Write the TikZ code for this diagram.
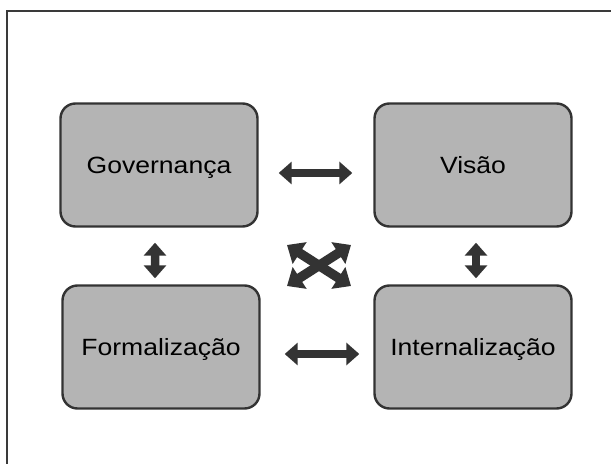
\documentclass[tikz,border=0pt]{standalone}
\usepackage{fontspec}
\setmainfont{Liberation Sans}
\usetikzlibrary{arrows.meta}
\definecolor{boxfill}{HTML}{B4B4B4}
\definecolor{boxline}{HTML}{333333}
\definecolor{arrowcol}{HTML}{333333}
\definecolor{framecol}{HTML}{3A3A3A}
\tikzset{
  stagebox/.style={draw=boxline, line width=2.4bp, fill=boxfill, rounded corners=15bp,
    minimum width=197bp, minimum height=123bp, inner sep=0pt,
    text height=17bp, text depth=0bp,
    font=\fontsize{23.5bp}{26bp}\selectfont},
  dblarrow/.style={draw=arrowcol, line width=8.5bp,
    {Triangle[width=22bp,length=13bp]}-{Triangle[width=22bp,length=13bp]}},
  crossarrow/.style={draw=arrowcol, line width=9.5bp,
    {Triangle[width=25bp,length=15bp]}-{Triangle[width=25bp,length=15bp]}},
}
\newcommand{\wide}[1]{\scalebox{1.13}[1]{#1}}
\begin{document}
\begin{tikzpicture}[x=1bp,y=-1bp]
\useasboundingbox (0,0) rectangle (611,464);
\fill[white] (0,0) rectangle (611,464);
\coordinate (fa) at (7,464);
\coordinate (fb) at (7,11);
\coordinate (fc) at (611,11);
\draw[framecol, line width=2bp] (fa) -- (fb) -- (fc);
\node[stagebox] (gov) at (159,165) {\wide{Governança}};
\node[stagebox] (vis) at (473,165) {\wide{Visão}};
\node[stagebox] (form) at (161,347) {\wide{Formalização}};
\node[stagebox] (int) at (473,347) {\wide{Internalização}};
% horizontal arrows
\draw[dblarrow] ([shift={(20bp,-8bp)}]gov.east) -- ([shift={(-21bp,-8bp)}]vis.west);
\draw[dblarrow] ([shift={(24bp,-7bp)}]form.east) -- ([shift={(-14bp,-7bp)}]int.west);
% vertical arrows
\draw[dblarrow] ([shift={(-4bp,-15bp)}]gov.south) -- ([shift={(-6bp,6bp)}]form.north);
\draw[dblarrow] ([shift={(3bp,-15bp)}]vis.south) -- ([shift={(3bp,6bp)}]int.north);
% cross
\coordinate (c1) at (287,245);
\coordinate (c2) at (351,286);
\coordinate (c3) at (287,286);
\coordinate (c4) at (351,245);
\draw[crossarrow] (c1) -- (c2);
\draw[crossarrow] (c3) -- (c4);
\end{tikzpicture}
\end{document}
